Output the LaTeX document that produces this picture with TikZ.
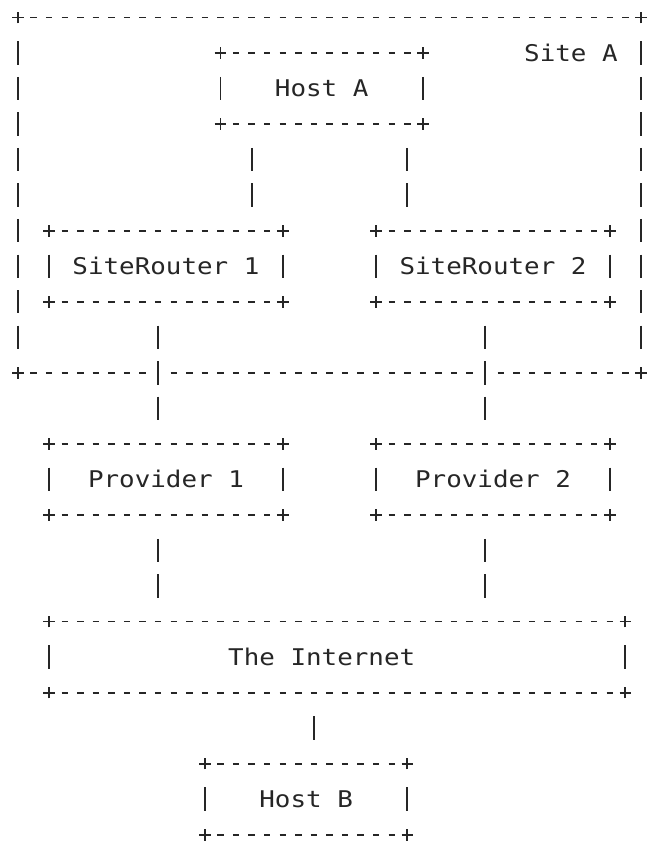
\documentclass[tikz,border=0pt]{standalone}
\usepackage{fontspec}
\usepackage{xcolor}
\newfontfamily\asciifont{DejaVu Sans Mono}[FakeStretch=1.125]
\definecolor{ink}{HTML}{262626}
\newlength{\colw}\setlength{\colw}{15.575pt}
\newlength{\rowh}\setlength{\rowh}{35.53pt}

\tikzset{
  glyph/.style={draw=ink, line width=1.9pt},
  hdash/.style={glyph, dash pattern=on 6.4pt off 9.175pt, dash phase=3.2pt},
  vbar/.style={glyph, dash pattern=on 23.4pt off 12.13pt, dash phase=29.465pt},
  wire/.style={vbar, preaction={draw=white, line width=9pt, dash pattern=on 23.4pt off 12.13pt, dash phase=29.465pt}},
  asciibox/.style={rectangle, inner sep=0pt, outer sep=0pt, text=ink, font=\asciifont\fontsize{23}{23}\selectfont},
  plusmark/.pic={\draw[glyph] (-5.85pt,0) -- (5.85pt,0) (0,-5.85pt) -- (0,5.85pt);}
}

% frame of '+', '-' and '|' round a box node
\newcommand\asciiframe[1]{%
  \draw[hdash] (#1.north west) -- (#1.north east);
  \draw[hdash] (#1.south west) -- (#1.south east);
  \draw[vbar] ([yshift=-0.5*\rowh]#1.north west) -- ([yshift=0.5*\rowh]#1.south west);
  \draw[vbar] ([yshift=-0.5*\rowh]#1.north east) -- ([yshift=0.5*\rowh]#1.south east);
  \foreach \corner in {north west, north east, south west, south east}
    \pic at (#1.\corner) {plusmark};
}

\begin{document}
\begin{tikzpicture}[x=\colw, y={(0,-35.53pt)}]
  \useasboundingbox (-1.1557,-0.4925) rectangle (40.449,23.234);

  % site frame
  \node[asciibox, minimum width=40*\colw, minimum height=10*\rowh] (site) at (20,5) {};
  \asciiframe{site}
  \node[asciibox] (siteA) at (35.5,1) {Site A};

  % boxes: name / x / y / width in columns / label
  \foreach \name/\x/\y/\w/\txt in {hostA/19.5/2/13/Host A,
      srOne/9.5/7/15/SiteRouter 1, srTwo/30.5/7/15/SiteRouter 2,
      provOne/9.5/13/15/Provider 1, provTwo/30.5/13/15/Provider 2,
      inet/20.5/18/37/The Internet\hspace*{2\colw},
      hostB/18.5/22/13/Host B} {
    \node[asciibox, minimum width=\w*\colw, minimum height=2*\rowh] (\name) at (\x,\y) {\txt};
    \asciiframe{\name}
  }

  % links: from / column offset / to / column offset
  \foreach \from/\fx/\to/\tx in {hostA/2/srOne/13, hostA/12/srTwo/2,
      srOne/7/provOne/7, srTwo/7/provTwo/7,
      provOne/7/inet/7, provTwo/7/inet/28, inet/17/hostB/7}
    \draw[wire] ([xshift=\fx*\colw, yshift=-0.5*\rowh]\from.south west)
      -- ([xshift=\tx*\colw, yshift=0.5*\rowh]\to.north west);
\end{tikzpicture}
\end{document}
